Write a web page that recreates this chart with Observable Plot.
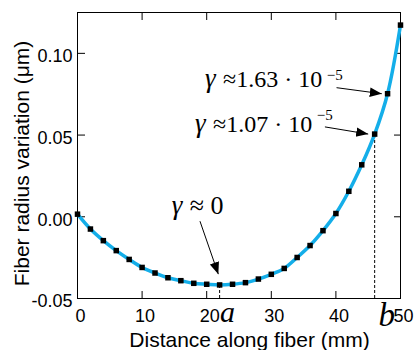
<!DOCTYPE html>
<html><head><meta charset="utf-8">
<script src="https://cdn.jsdelivr.net/npm/d3@7"></script>
<script src="https://cdn.jsdelivr.net/npm/@observablehq/plot@0.6"></script>
<style>body{margin:0;background:#fff}svg{display:block}</style>
</head><body><div id="chart"></div>
<script>
// Data
const distance = [0,2,4,6,8,10,12,14,16,18,20,22,24,26,28,30,32,34,36,38,40,42,44,46,48,50];
const radius = [0.0016,-0.0075,-0.0146,-0.0207,-0.0261,-0.0310,-0.0344,-0.0373,-0.0391,-0.0407,-0.0413,-0.0417,-0.0413,-0.0403,-0.0381,-0.0352,-0.0316,-0.0249,-0.0176,-0.0085,0.0020,0.0156,0.0318,0.0506,0.0753,0.1173];
const xTicks = [0,10,20,30,40,50];
const yTicks = [-0.05,0,0.05,0.10];
const xDomain = [0,50];
const yDomain = [-0.05,0.125];
const guideX = [22,46];
const guideLabel = ["a","b"];
const annSymbol = ["γ","γ","γ"];
const annText = ["≈ 0","≈1.07 · 10","≈1.63 · 10"];
const annSize = [26,24,24];
const symSize = [27,27,27];
const annX = [14.58,18.19,19.74];
const annY = [0.0014,0.0520,0.0792];
const supText = ["−5","−5"];
const supX = [37.03,38.58];
const supY = [0.0591,0.0840];
const arrowX1 = [18.96,38.3,40.1];
const arrowY1 = [-0.0027,0.0550,0.0790];
const arrowX2 = [21.8,45.0,47.1];
const arrowY2 = [-0.0351,0.0506,0.0753];
const xLabel = "Distance along fiber (mm)";
const yLabel = "Fiber radius variation (μm)";

const points = distance.map((d,i)=>({x:d,y:radius[i]}));
const guides = guideX.map((g,i)=>({x:g,y:radius[distance.indexOf(g)],label:guideLabel[i]}));
const arrows = arrowX1.map((d,i)=>({x1:d,y1:arrowY1[i],x2:arrowX2[i],y2:arrowY2[i]}));
const ann = annText.map((t,i)=>({sym:annSymbol[i],text:t,x:annX[i],y:annY[i],size:annSize[i],ssize:symSize[i]}));
const sups = supText.map((t,i)=>({text:t,x:supX[i],y:supY[i]}));

function filledArrow(color){
  const ns="http://www.w3.org/2000/svg";
  const m=document.createElementNS(ns,"marker");
  m.setAttribute("viewBox","0 -5 10 10");
  m.setAttribute("refX","10");m.setAttribute("refY","0");
  m.setAttribute("markerUnits","userSpaceOnUse");
  m.setAttribute("markerWidth","12");m.setAttribute("markerHeight","12");
  m.setAttribute("orient","auto");
  const p=document.createElementNS(ns,"path");
  p.setAttribute("d","M0,-4L10,0L0,4Z");p.setAttribute("fill","black");p.setAttribute("stroke","none");
  m.appendChild(p);return m;
}
const serif = "Liberation Serif, Times New Roman, serif";

function build(arrowMark){
  return Plot.plot({
    width:417,height:350,
    marginLeft:77,marginRight:17,marginTop:12,marginBottom:52,
    style:{fontFamily:"Liberation Sans, Arial, sans-serif",fontSize:"18px",color:"black",background:"white"},
    x:{domain:xDomain,label:null},
    y:{domain:yDomain,label:null},
    marks:[
      Plot.frame({stroke:"black",strokeWidth:1}),
      Plot.axisX(xTicks,{anchor:"bottom",tickSize:-7,fill:"none",label:null}),
      Plot.axisX(xTicks,{anchor:"top",tickSize:-7,fill:"none",label:null}),
      Plot.axisY(yTicks,{anchor:"left",tickSize:-8,fill:"none",label:null}),
      Plot.axisY(yTicks,{anchor:"right",tickSize:-7,fill:"none",label:null}),
      Plot.axisX(xTicks,{anchor:"bottom",tickSize:0,tickPadding:11,dx:3,fontSize:18,label:null,tickFormat:d=>String(d)}),
      Plot.axisY(yTicks,{anchor:"left",tickSize:0,tickPadding:5,dy:3,fontSize:18,label:null,tickFormat:d=>d.toFixed(2)}),
      Plot.ruleX(guides,{x:"x",y1:yDomain[0],y2:"y",stroke:"black",strokeWidth:1,strokeDasharray:"3,2"}),
      Plot.line(points,{x:"x",y:"y",curve:"catmull-rom",stroke:"#14aee9",strokeWidth:3.5}),
      Plot.dot(points,{x:"x",y:"y",symbol:"square",r:3.1,fill:"black",stroke:"none"}),
      Plot.text(guides.slice(0,1),{x:"x",text:"label",frameAnchor:"bottom",lineAnchor:"bottom",dx:8,dy:23,fontFamily:serif,fontStyle:"italic",fontSize:30,fill:"black"}),
      Plot.text(guides.slice(1),{x:"x",text:"label",frameAnchor:"bottom",lineAnchor:"bottom",dx:12,dy:27,fontFamily:serif,fontStyle:"italic",fontSize:33,fill:"black"}),
      Plot.text(ann,{x:"x",y:"y",text:"sym",textAnchor:"start",lineAnchor:"bottom",fontFamily:serif,fontStyle:"italic",fontSize:d=>d.ssize,fill:"black"}),
      Plot.text(ann,{x:"x",y:"y",text:"text",textAnchor:"start",lineAnchor:"bottom",dx:18,fontFamily:serif,fontSize:d=>d.size,fill:"black"}),
      Plot.text(sups,{x:"x",y:"y",text:"text",textAnchor:"start",lineAnchor:"bottom",fontFamily:serif,fontSize:15,fill:"black"}),
      arrowMark,
      Plot.text([xLabel],{text:d=>d,frameAnchor:"bottom",textAnchor:"middle",lineAnchor:"bottom",dx:10.5,dy:48.5,fontSize:21,fill:"black"}),
      Plot.text([yLabel],{text:d=>d,frameAnchor:"left",textAnchor:"middle",rotate:-90,lineAnchor:"bottom",dx:-49,dy:8,fontSize:21,fill:"black"})
    ]
  });
}
let chart;
try {
  chart = build(Plot.link(arrows,{x1:"x1",y1:"y1",x2:"x2",y2:"y2",stroke:"black",strokeWidth:1,markerEnd:filledArrow}));
} catch(e) {
  chart = build(Plot.arrow(arrows,{x1:"x1",y1:"y1",x2:"x2",y2:"y2",stroke:"black",strokeWidth:1,headLength:11,headAngle:45}));
}
document.getElementById("chart").appendChild(chart);
</script>
</body></html>
